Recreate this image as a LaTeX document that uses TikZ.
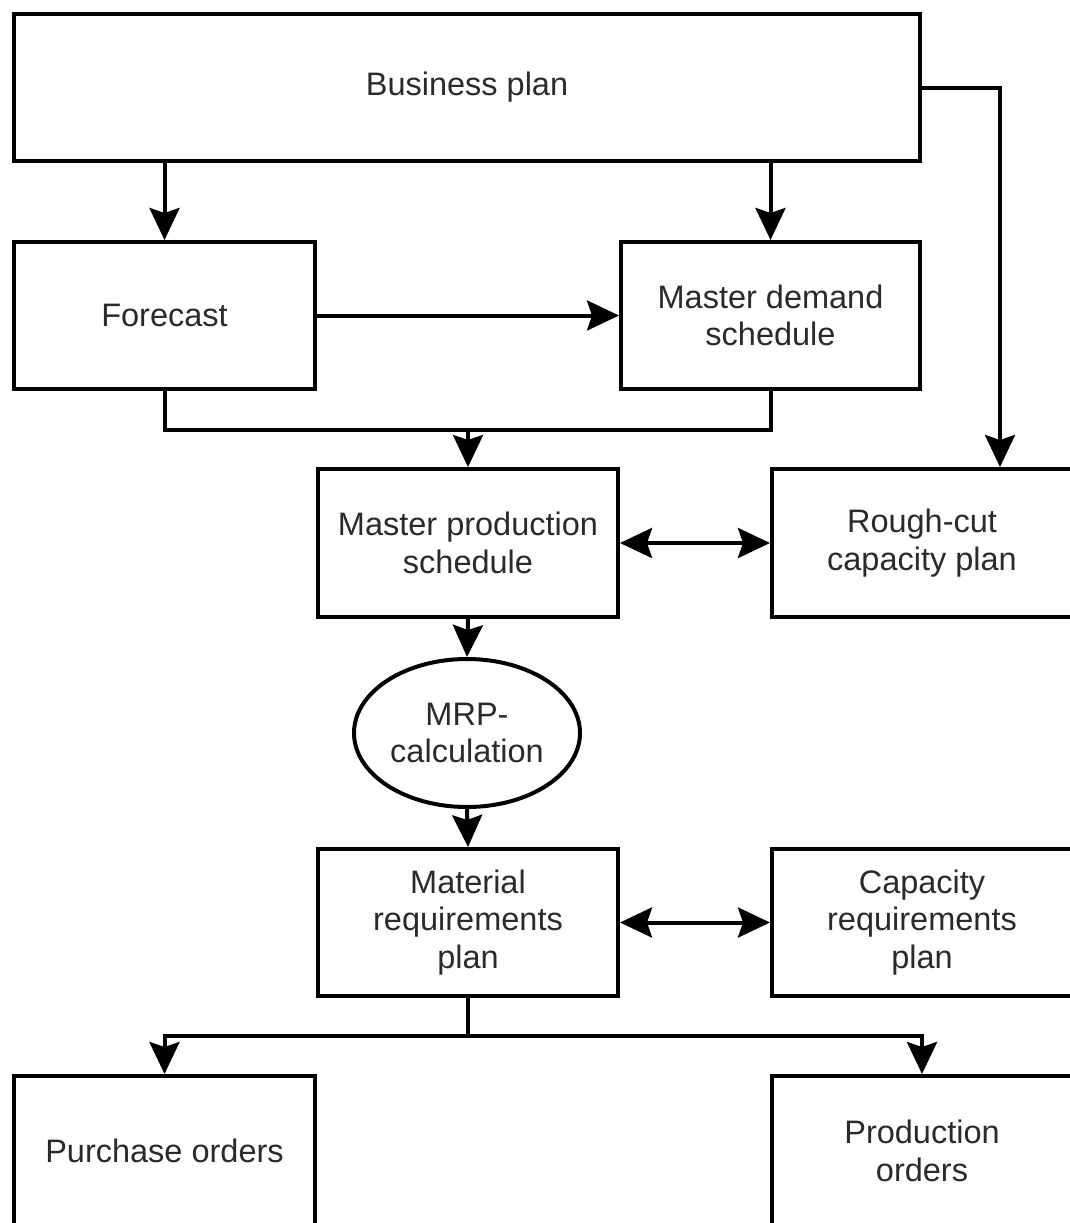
\documentclass[tikz,border=0pt]{standalone}
\usepackage{fontspec}
\setmainfont{Liberation Sans}
\usetikzlibrary{arrows.meta,shapes.geometric}
\definecolor{txt}{HTML}{2A2A2A}
\begin{document}
\begin{tikzpicture}[x=1pt,y=-1pt,
  box/.style={draw=black,line width=4pt,rectangle,inner sep=0pt,
    font=\fontsize{32.5}{37.5}\selectfont,text=txt,align=center},
  oval/.style={draw=black,line width=4pt,ellipse,inner sep=0pt,
    font=\fontsize{32.5}{37.5}\selectfont,text=txt,align=center},
  link/.style={line width=4pt},
  tip/.style={Stealth[length=32pt,width=30pt,inset=5pt]},
  arr/.style={line width=4pt,-{Stealth[length=32pt,width=30pt,inset=5pt]}},
  darr/.style={line width=4pt,{Stealth[length=32pt,width=30pt,inset=5pt]}-{Stealth[length=32pt,width=30pt,inset=5pt]}}]
\useasboundingbox (0,0) rectangle (1070,1223);
\clip (0,0) rectangle (1070,1223);
% planning boxes
\node[box,minimum width=906pt,minimum height=147pt] (bp) at (467,87.5) {Business plan};
\node[box,minimum width=301pt,minimum height=147pt] (fc) at (164.5,315.5) {Forecast};
\node[box,minimum width=299pt,minimum height=147pt] (mds) at (770.5,315.5) {Master demand\\schedule};
\node[box,minimum width=300pt,minimum height=148pt] (mps) at (468,543) {Master production\\schedule};
\node[box,minimum width=300pt,minimum height=148pt] (rc) at (922,543) {Rough-cut\\capacity plan};
\node[oval,minimum width=226pt,minimum height=148pt] (mrpc) at (467,733) {MRP-\\calculation};
\node[box,minimum width=300pt,minimum height=147pt] (mrp) at (468,922.5) {Material\\requirements\\plan};
\node[box,minimum width=300pt,minimum height=147pt] (crp) at (922,922.5) {Capacity\\requirements\\plan};
\node[box,minimum width=301pt,minimum height=150pt] (po) at (164.5,1151) {Purchase orders};
\node[box,minimum width=300pt,minimum height=150pt] (pr) at (922,1151) {Production\\orders};
% junction points
\coordinate (j1) at (468,430);
\coordinate (j2) at (468,1036);
% connectors
\draw[arr] (bp.south -| fc.north) -- (fc.north);
\draw[arr] (bp.south -| mds.north) -- (mds.north);
\draw[arr] (bp.east) -| ([xshift=78pt]rc.north);
\draw[arr] (fc.east) -- (mds.west);
\draw[link] (fc.south) |- (j1) -| (mds.south);
\draw[arr] (j1) -- (mps.north);
\draw[darr] (mps.east) -- (rc.west);
\draw[arr] (mps.south) -- (mrpc.north);
\draw[arr] (mrpc.south) -- (mrp.north);
\draw[darr] (mrp.east) -- (crp.west);
\draw[link] (mrp.south) -- (j2);
\draw[arr] (j2) -| (po.north);
\draw[arr] (j2) -| (pr.north);
\end{tikzpicture}
\end{document}
